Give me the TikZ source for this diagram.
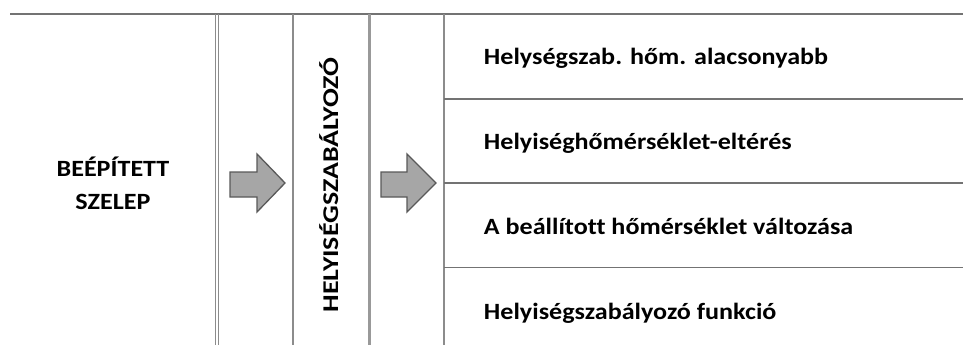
\documentclass[tikz,border=0pt]{standalone}
\usepackage{fontspec}
\setmainfont{Carlito}[Ligatures=NoCommon]
\begin{document}
\begin{tikzpicture}[x=1pt,y=-1pt,
  rule/.style={draw=black!55,line width=1.3pt},
  lbl/.style={font=\bfseries\fontsize{23.3}{33}\selectfont,text=black},
  rowlbl/.style={lbl,anchor=base west,xscale=1.12},
  arr/.style={draw=black!65,fill=black!35,line width=1.3pt,line join=miter},
  ]
\useasboundingbox (0,0) rectangle (969,345);
% frame
\coordinate (tl) at (10,14);
\coordinate (tr) at (963,14);
\draw[rule] (tl) -- (tr);
\draw[draw=black!45,line width=1pt] (215,14) -- (215,345);
\draw[draw=black!45,line width=1pt] (218.5,14) -- (218.5,345);
\draw[draw=black!45,line width=1.2pt] (293,14) -- (293,345);
\draw[draw=black!40,line width=3pt] (369,14) -- (369,345);
\draw[draw=black!45,line width=1.2pt] (444,14) -- (444,345);
\draw[rule] (444,99) -- (963,99);
\draw[rule] (444,183) -- (963,183);
\draw[rule] (444,267.5) -- (963,267.5);
% left label
\node[lbl,align=center,anchor=base,xscale=1.12] (valve) at (113,209.3) {BEÉPÍTETT\\SZELEP};
% vertical label
\node[lbl,font=\bfseries\fontsize{22.5}{26}\selectfont,anchor=base,rotate=90,xscale=1.24] (ctrl) at (338,185) {HELYISÉGSZABÁLYOZÓ};
% arrows
\draw[arr] (230,172) -- (257,172) -- (257,154) -- (285,183) -- (257,212) -- (257,197) -- (230,197) -- cycle;
\draw[arr] (381,172) -- (407,172) -- (407,154) -- (436,183) -- (407,212) -- (407,197) -- (381,197) -- cycle;
% right labels
\node[rowlbl] (r1) at (480,65) {Helységszab. hőm. alacsonyabb};
\node[rowlbl] (r2) at (480,149) {Helyiséghőmérséklet-eltérés};
\node[rowlbl] (r3) at (480,234) {A beállított hőmérséklet változása};
\node[rowlbl] (r4) at (480,319) {Helyiségszabályozó funkció};
\end{tikzpicture}
\end{document}
